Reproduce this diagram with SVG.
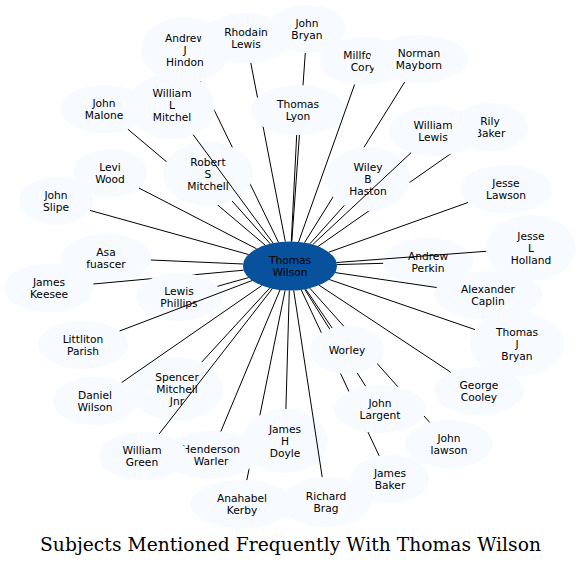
<svg xmlns="http://www.w3.org/2000/svg" width="581" height="567" viewBox="0 0 581 567">
<style>
.n ellipse{fill:#f7fbff;stroke:none}
.c ellipse{fill:#08519c;stroke:none}
text{font-family:"DejaVu Sans",sans-serif;font-size:10.67px;text-anchor:middle;fill:#000}
text.t{font-family:"DejaVu Serif",serif;font-size:18.67px}
.e line{stroke:#000;stroke-width:1;fill:none}
</style>
<defs>
<mask id="mHindon" maskUnits="userSpaceOnUse" x="0" y="0" width="581" height="567"><rect width="581" height="567" fill="#fff"/><ellipse cx="172" cy="106" rx="43" ry="33"/><ellipse cx="208" cy="174" rx="45" ry="32"/></mask>
<mask id="mLyon" maskUnits="userSpaceOnUse" x="0" y="0" width="581" height="567"><rect width="581" height="567" fill="#fff"/><ellipse cx="298" cy="110" rx="47" ry="25"/></mask>
<mask id="mRSM" maskUnits="userSpaceOnUse" x="0" y="0" width="581" height="567"><rect width="581" height="567" fill="#fff"/><ellipse cx="208" cy="174" rx="45" ry="32"/></mask>
<mask id="mHaston" maskUnits="userSpaceOnUse" x="0" y="0" width="581" height="567"><rect width="581" height="567" fill="#fff"/><ellipse cx="368" cy="179" rx="42" ry="32"/><ellipse cx="434" cy="131" rx="45" ry="25"/></mask>
<mask id="mPhillips" maskUnits="userSpaceOnUse" x="0" y="0" width="581" height="567"><rect width="581" height="567" fill="#fff"/><ellipse cx="179" cy="297" rx="43" ry="24"/></mask>
<mask id="mWorley" maskUnits="userSpaceOnUse" x="0" y="0" width="581" height="567"><rect width="581" height="567" fill="#fff"/><ellipse cx="347" cy="350" rx="37" ry="24"/><ellipse cx="380" cy="409" rx="46" ry="24"/></mask>
<mask id="mDoyle" maskUnits="userSpaceOnUse" x="0" y="0" width="581" height="567"><rect width="581" height="567" fill="#fff"/><ellipse cx="285" cy="441" rx="43" ry="32"/><ellipse cx="211" cy="455" rx="47" ry="24"/></mask>
</defs>
<rect width="581" height="567" fill="#fff"/>
<g id="thomas_wilson" class="c"><ellipse cx="290" cy="266" rx="47" ry="24.5"/><text x="290" y="264">Thomas</text><text x="290" y="276">Wilson</text></g>
<g id="andrew_j_hindon" class="n"><ellipse cx="185" cy="50" rx="44" ry="33"/><text x="185" y="42">Andrew</text><text x="185" y="54">J</text><text x="185" y="66">Hindon</text></g>
<g id="rhodain_lewis" class="n"><ellipse cx="246" cy="38" rx="45" ry="25"/><text x="246" y="36">Rhodain</text><text x="246" y="48">Lewis</text></g>
<g id="john_bryan" class="n"><ellipse cx="307" cy="29" rx="39" ry="24"/><text x="307" y="27">John</text><text x="307" y="39">Bryan</text></g>
<g id="thomas_lyon" class="n"><ellipse cx="298" cy="110" rx="47" ry="25"/><text x="298" y="108">Thomas</text><text x="298" y="120">Lyon</text></g>
<g id="john_malone" class="n"><ellipse cx="104" cy="109" rx="44" ry="24"/><text x="104" y="107">John</text><text x="104" y="119">Malone</text></g>
<g id="robert_s_mitchell" class="n"><ellipse cx="208" cy="174" rx="45" ry="32"/><text x="208" y="166">Robert</text><text x="208" y="178">S</text><text x="208" y="190">Mitchell</text></g>
<g id="william_l_mitchel" class="n"><ellipse cx="172" cy="106" rx="43" ry="33"/><text x="172" y="97">William</text><text x="172" y="109">L</text><text x="172" y="121">Mitchel</text></g>
<g id="millford_cory" class="n"><ellipse cx="363" cy="61" rx="43" ry="24"/><text x="363" y="59">Millford</text><text x="363" y="71">Cory</text></g>
<g id="norman_mayborn" class="n"><ellipse cx="419" cy="59" rx="49" ry="24"/><text x="419" y="57">Norman</text><text x="419" y="69">Mayborn</text></g>
<g id="rily_baker" class="n"><ellipse cx="490" cy="127" rx="38" ry="24"/><text x="490" y="125">Rily</text><text x="490" y="137">Baker</text></g>
<g id="wiley_b_haston" class="n"><ellipse cx="368" cy="179" rx="42" ry="32"/><text x="368" y="171">Wiley</text><text x="368" y="183">B</text><text x="368" y="195">Haston</text></g>
<g id="william_lewis" class="n"><ellipse cx="434" cy="131" rx="45" ry="25"/><text x="433" y="129">William</text><text x="433" y="141">Lewis</text></g>
<g id="levi_wood" class="n"><ellipse cx="110" cy="173" rx="37" ry="24"/><text x="110" y="171">Levi</text><text x="110" y="183">Wood</text></g>
<g id="john_slipe" class="n"><ellipse cx="56" cy="201" rx="37" ry="24"/><text x="56" y="199">John</text><text x="56" y="211">Slipe</text></g>
<g id="asa_fuascer" class="n"><ellipse cx="106" cy="258" rx="45" ry="24"/><text x="106" y="256">Asa</text><text x="106" y="268">fuascer</text></g>
<g id="james_keesee" class="n"><ellipse cx="49" cy="288" rx="45" ry="24"/><text x="49" y="286">James</text><text x="49" y="298">Keesee</text></g>
<g id="lewis_phillips" class="n"><ellipse cx="179" cy="297" rx="43" ry="24"/><text x="179" y="295">Lewis</text><text x="179" y="307">Phillips</text></g>
<g id="littliton_parish" class="n"><ellipse cx="83" cy="345" rx="45" ry="24"/><text x="83" y="343">Littliton</text><text x="83" y="355">Parish</text></g>
<g id="andrew_perkin" class="n"><ellipse cx="428" cy="262" rx="45" ry="24"/><text x="428" y="260">Andrew</text><text x="428" y="272">Perkin</text></g>
<g id="jesse_l_holland" class="n"><ellipse cx="531" cy="248" rx="45" ry="33"/><text x="531" y="240">Jesse</text><text x="531" y="252">L</text><text x="531" y="264">Holland</text></g>
<g id="jesse_lawson" class="n"><ellipse cx="506" cy="189" rx="46" ry="24"/><text x="506" y="187">Jesse</text><text x="506" y="199">Lawson</text></g>
<g id="alexander_caplin" class="n"><ellipse cx="488" cy="295" rx="54" ry="24"/><text x="488" y="293">Alexander</text><text x="488" y="305">Caplin</text></g>
<g id="thomas_j_bryan" class="n"><ellipse cx="517" cy="344" rx="47" ry="32"/><text x="517" y="336">Thomas</text><text x="517" y="348">J</text><text x="517" y="360">Bryan</text></g>
<g id="george_cooley" class="n"><ellipse cx="479" cy="391" rx="45" ry="24"/><text x="479" y="389">George</text><text x="479" y="401">Cooley</text></g>
<g id="john_lawson" class="n"><ellipse cx="449" cy="444" rx="44" ry="24"/><text x="449" y="442">John</text><text x="449" y="454">lawson</text></g>
<g id="james_baker" class="n"><ellipse cx="390" cy="479" rx="39" ry="24"/><text x="390" y="477">James</text><text x="390" y="489">Baker</text></g>
<g id="john_largent" class="n"><ellipse cx="380" cy="409" rx="46" ry="24"/><text x="380" y="407">John</text><text x="380" y="419">Largent</text></g>
<g id="worley" class="n"><ellipse cx="347" cy="350" rx="37" ry="24"/><text x="347" y="354">Worley</text></g>
<g id="anahabel_kerby" class="n"><ellipse cx="242" cy="504" rx="52" ry="24"/><text x="242" y="502">Anahabel</text><text x="242" y="514">Kerby</text></g>
<g id="james_h_doyle" class="n"><ellipse cx="285" cy="441" rx="43" ry="32"/><text x="285" y="433">James</text><text x="285" y="445">H</text><text x="285" y="457">Doyle</text></g>
<g id="richard_brag" class="n"><ellipse cx="326" cy="502" rx="45" ry="25"/><text x="326" y="500">Richard</text><text x="326" y="512">Brag</text></g>
<g id="spencer_mitchell_jnr" class="n"><ellipse cx="177" cy="389" rx="46" ry="32"/><text x="177" y="381">Spencer</text><text x="177" y="393">Mitchell</text><text x="177" y="405">Jnr</text></g>
<g id="daniel_wilson" class="n"><ellipse cx="95" cy="401" rx="42" ry="24"/><text x="95" y="399">Daniel</text><text x="95" y="411">Wilson</text></g>
<g id="henderson_warler" class="n"><ellipse cx="211" cy="455" rx="47" ry="24"/><text x="211" y="453">Henderson</text><text x="211" y="465">Warler</text></g>
<g id="william_green" class="n"><ellipse cx="143" cy="456" rx="45" ry="24"/><text x="142" y="454">William</text><text x="142" y="466">Green</text></g>
<g id="connectors" class="e">
<line x1="278.5" y1="242.3" x2="200.1" y2="81" mask="url(#mHindon)"/>
<line x1="285.3" y1="241.6" x2="250.8" y2="62.9" mask="url(#mLyon)"/>
<line x1="291.8" y1="241.5" x2="305.3" y2="53" mask="url(#mLyon)"/>
<line x1="291.3" y1="241.5" x2="296.7" y2="135"/>
<line x1="265.3" y1="245.2" x2="127.9" y2="129.2" mask="url(#mRSM)"/>
<line x1="270.2" y1="243.8" x2="232.1" y2="201"/>
<line x1="273.1" y1="243.1" x2="193.2" y2="134.7"/>
<line x1="298.6" y1="241.9" x2="354.6" y2="84.5"/>
<line x1="304.5" y1="242.7" x2="404.7" y2="82" mask="url(#mHaston)"/>
<line x1="318.1" y1="246.4" x2="463.5" y2="144.8" mask="url(#mHaston)"/>
<line x1="309.9" y1="243.8" x2="344.3" y2="205.4"/>
<line x1="312.7" y1="244.6" x2="411.1" y2="152.7"/>
<line x1="256.6" y1="248.8" x2="138.9" y2="188"/>
<line x1="248.5" y1="254.5" x2="90" y2="210.4"/>
<line x1="243.2" y1="264" x2="150.8" y2="260"/>
<line x1="243.7" y1="270.2" x2="93.4" y2="284" mask="url(#mPhillips)"/>
<line x1="248.6" y1="277.6" x2="217.4" y2="286.3"/>
<line x1="252.1" y1="280.5" x2="119.6" y2="331"/>
<line x1="336.9" y1="264.6" x2="383.1" y2="263.3"/>
<line x1="336.5" y1="262.5" x2="486.2" y2="251.3"/>
<line x1="328.8" y1="252.2" x2="468" y2="202.5"/>
<line x1="335.2" y1="272.6" x2="436.7" y2="287.5"/>
<line x1="329.2" y1="279.5" x2="475" y2="329.6"/>
<line x1="319.1" y1="285.2" x2="450.8" y2="372.3"/>
<line x1="309.8" y1="288.2" x2="429.7" y2="422.4" mask="url(#mWorley)"/>
<line x1="301.2" y1="289.8" x2="379.2" y2="455.9" mask="url(#mWorley)"/>
<line x1="304.7" y1="289.3" x2="365.6" y2="386.2" mask="url(#mWorley)"/>
<line x1="305.7" y1="289.1" x2="332.1" y2="328"/>
<line x1="285.1" y1="290.4" x2="246.8" y2="480.1" mask="url(#mDoyle)"/>
<line x1="289.3" y1="290.5" x2="285.9" y2="409"/>
<line x1="293.7" y1="290.4" x2="322.2" y2="477.1"/>
<line x1="269.7" y1="288.1" x2="201.8" y2="362"/>
<line x1="261.7" y1="285.6" x2="121.7" y2="382.5"/>
<line x1="280" y1="289.9" x2="220.8" y2="431.5"/>
<line x1="272.3" y1="288.7" x2="159.1" y2="434"/>
</g>
<text class="t" x="290.5" y="551" textLength="501">Subjects Mentioned Frequently With Thomas Wilson</text>
</svg>
